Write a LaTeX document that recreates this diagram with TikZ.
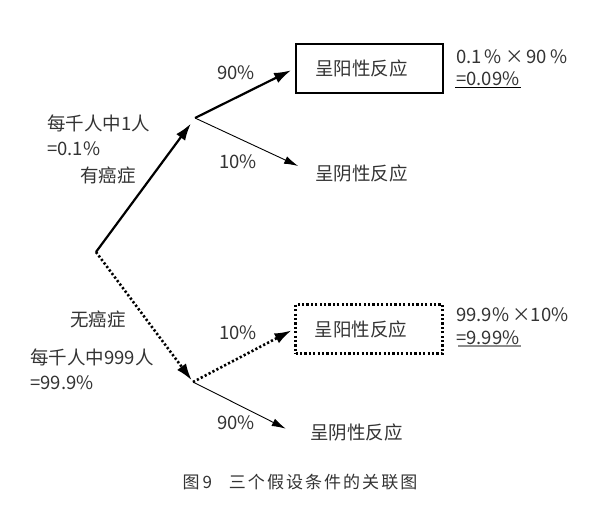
\documentclass[tikz,border=0pt]{standalone}
\usepackage{fontspec}
\setmainfont{Noto Sans CJK SC}
\newfontfamily\capfont[LetterSpace=12]{Noto Sans CJK SC}
\usetikzlibrary{arrows.meta, positioning, calc}
\definecolor{inkgray}{HTML}{333333}
\definecolor{rulegray}{HTML}{8c8c8c}
\tikzset{
  lbl/.style={text=inkgray, inner sep=1pt, font=\fontsize{18.5}{25}\selectfont},
  posbox/.style={lbl, minimum width=147pt, minimum height=49pt},
  thickarrow/.style={line width=2.2pt, -{Latex[length=17pt,width=11pt]}},
  thinarrow/.style={line width=0.9pt, -{Latex[length=14pt,width=8pt]}},
  dotarrow/.style={line width=2.6pt, dash pattern=on 2.2pt off 2.2pt,
                   -{Latex[length=17pt,width=11pt]}}
}

\begin{document}
\begin{tikzpicture}[x=1pt, y=-1pt]
  \useasboundingbox (0,0) rectangle (591,511);
  % branch points
  \coordinate (root) at (96,252);
  \coordinate (forkA) at (195,118);
  \coordinate (forkB) at (193,382);

  % outcomes
  \node[posbox, draw=black, line width=2.6pt] (posA) at (369.5,68.5) {呈阳性反应\kern16pt};
  \node[lbl, anchor=west] (negA) at (314,173) {呈阴性反应};
  \node[posbox, draw=black, line width=2.6pt, dash pattern=on 2.2pt off 2.2pt]
    (posB) at (369,329) {呈阳性反应\kern16pt};
  \node[lbl, anchor=west] (negB) at (309,432) {呈阴性反应};

  % results
  \node[lbl, anchor=west] (resA1) at (455,57) {0.1\,\%\,×\,90\,\%};
  \node[lbl, anchor=west] (resA2) at (455,79) {=0.09\%};
  \node[lbl, anchor=west] (resB1) at (455,315) {99.9\%\,×10\%};
  \node[lbl, anchor=west] (resB2) at (455,338) {=9.99\%};
  \draw[line width=1.2pt] (resA2.south west) -- (resA2.south east);
  \draw[rulegray, line width=1.6pt] ([xshift=3pt]resB2.south west) -- (resB2.south east);

  % branch labels
  \node[lbl, anchor=west, align=left] (cancer) at (46,135) {每千人中1人\\=0.1\%};
  \node[lbl] (cancerT) at (108,175) {有癌症};
  \node[lbl] (healthT) at (98,319) {无癌症};
  \node[lbl, anchor=west, align=left] (health) at (29,369) {每千人中999人\\=99.9\%};
  \node[lbl] (pA1) at (236,73) {90\%};
  \node[lbl] (pA2) at (238,162) {10\%};
  \node[lbl] (pB1) at (238,333) {10\%};
  \node[lbl] (pB2) at (236,423) {90\%};

  % connectors
  \draw[thickarrow, shorten >=7pt] (root) -- (forkA);
  \draw[thickarrow, shorten >=4pt] (forkA) -- (posA.west);
  \draw[thinarrow, shorten >=40pt] (forkA) -- (negA.200);
  \draw[dotarrow, shorten >=2pt] (root) -- (forkB);
  \draw[dotarrow, shorten >=3pt] (forkB) -- (posB.west);
  \draw[thinarrow, shorten >=26pt] (forkB) -- (negB.190);

  % caption
  \node[text=inkgray, font=\fontsize{17}{20}\capfont] (caption) at (300,482) {图\,9\quad 三个假设条件的关联图};
\end{tikzpicture}
\end{document}
